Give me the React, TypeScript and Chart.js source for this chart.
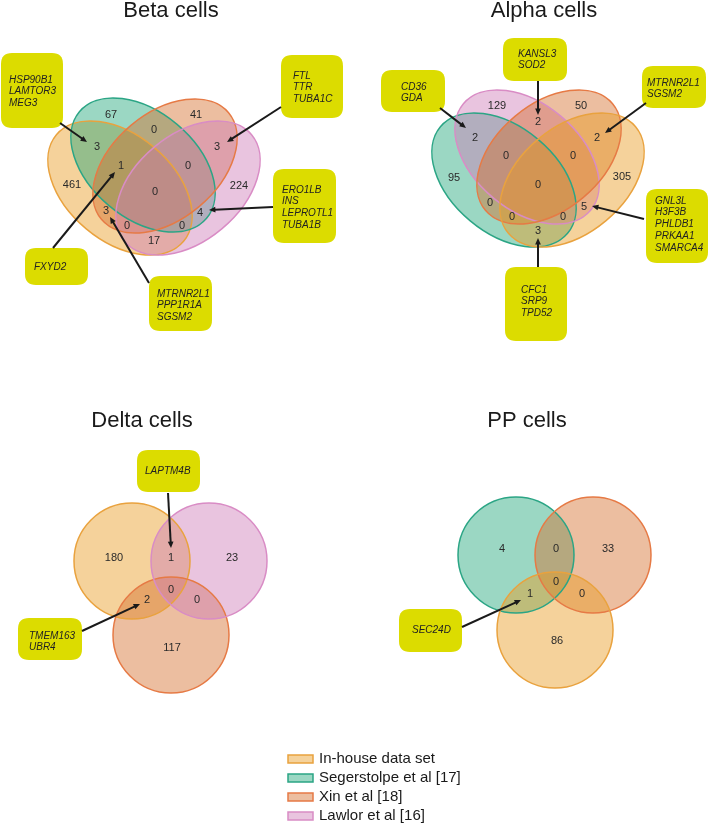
import React, { useEffect, useRef } from 'react';
import { Chart, registerables } from 'chart.js';
Chart.register(...registerables);

// ---- data ----
const SET_NAMES = ['In-house data set', 'Segerstolpe et al [17]', 'Xin et al [18]', 'Lawlor et al [16]'];
const PANEL_TITLES = ['Beta cells', 'Alpha cells', 'Delta cells', 'PP cells'];

// region counts per panel
const betaCounts = [461, 67, 41, 224, 3, 0, 3, 1, 0, 0, 3, 4, 0, 0, 17];
const alphaCounts = [129, 50, 2, 2, 2, 0, 0, 95, 305, 0, 0, 5, 0, 0, 3];
const deltaCounts = [180, 1, 23, 0, 2, 0, 117];
const ppCounts = [4, 0, 33, 0, 1, 0, 86];

// gene annotations
const betaGenes = [
  ['HSP90B1', 'LAMTOR3', 'MEG3'],
  ['FTL', 'TTR', 'TUBA1C'],
  ['ERO1LB', 'INS', 'LEPROTL1', 'TUBA1B'],
  ['FXYD2'],
  ['MTRNR2L1', 'PPP1R1A', 'SGSM2'],
];
const alphaGenes = [
  ['KANSL3', 'SOD2'],
  ['CD36', 'GDA'],
  ['MTRNR2L1', 'SGSM2'],
  ['GNL3L', 'H3F3B', 'PHLDB1', 'PRKAA1', 'SMARCA4'],
  ['CFC1', 'SRP9', 'TPD52'],
];
const deltaGenes = [['LAPTM4B'], ['TMEM163', 'UBR4']];
const ppGenes = [['SEC24D']];

// ---- layout (page coordinates) ----
const PANEL_TITLE_POS = [[171, 17], [544, 17], [142, 427], [527, 427]];

const betaCountPos = [[72, 185], [111, 115], [196, 115], [239, 186], [97, 147], [154, 130], [217, 147], [121, 166], [188, 166], [155, 192], [106, 211], [200, 213], [127, 226], [182, 226], [154, 241]];
const alphaCountPos = [[497, 106], [581, 106], [538, 122], [475, 138], [597, 138], [506, 156], [573, 156], [454, 178], [622, 177], [538, 185], [490, 203], [584, 207], [512, 217], [563, 217], [538, 231]];
const deltaCountPos = [[114, 558], [171, 558], [232, 558], [171, 590], [147, 600], [197, 600], [172, 648]];
const ppCountPos = [[502, 549], [556, 549], [608, 549], [556, 582], [530, 594], [582, 594], [557, 641]];

// ellipses: set index, cx, cy, rx, ry, rotation (deg)
const betaShapes = [[0, 120, 188, 83, 53, 40], [1, 143, 165, 83, 53, 40], [2, 165, 166, 83, 53, -40], [3, 188, 188, 83, 53, -40]];
const alphaShapes = [[1, 504, 180, 83, 53, 40], [3, 527, 157, 83, 53, 40], [2, 549, 157, 83, 53, -40], [0, 572, 180, 83, 53, -40]];
const deltaShapes = [[0, 132, 561, 58, 58, 0], [2, 171, 635, 58, 58, 0], [3, 209, 561, 58, 58, 0]];
const ppShapes = [[1, 516, 555, 58, 58, 0], [2, 593, 555, 58, 58, 0], [0, 555, 630, 58, 58, 0]];

// boxes: x0, y0, x1, y1, textX, firstLineY, arrow from (ax0, ay0) to (ax1, ay1)
const betaBoxes = [
  [1, 53, 63, 128, 9, 80, 60, 123, 87, 142],
  [281, 55, 343, 118, 293, 76, 281, 107, 227, 142],
  [273, 169, 336, 243, 282, 190, 273, 207, 209, 210],
  [25, 248, 88, 285, 34, 267, 53, 248, 115, 172],
  [149, 276, 212, 331, 157, 294, 149, 283, 110, 217],
];
const alphaBoxes = [
  [503, 38, 567, 81, 518, 54, 538, 81, 538, 115],
  [381, 70, 445, 112, 401, 87, 440, 108, 466, 128],
  [642, 66, 706, 108, 647, 83, 646, 103, 605, 133],
  [646, 189, 708, 263, 655, 201, 644, 219, 592, 206],
  [505, 267, 567, 341, 521, 290, 538, 267, 538, 238],
];
const deltaBoxes = [
  [137, 450, 200, 492, 145, 471, 168, 493, 171, 548],
  [18, 618, 82, 660, 29, 636, 82, 631, 140, 604],
];
const ppBoxes = [[399, 609, 462, 652, 412, 630, 462, 627, 521, 600]];

const LEGEND_POS = [288, 759, 19];

// ---- styles ----
const SET_FILL = ['rgba(233,155,33,0.45)', 'rgba(33,166,122,0.45)', 'rgba(213,111,44,0.45)', 'rgba(206,124,184,0.45)'];
const SET_STROKE = ['#e9a23e', '#2ba585', '#e67a45', '#d98cc5'];
const BOX_COLOR = '#dcdc00';
const FONT = '"Liberation Sans", Arial, sans-serif';

const panels = [
  { counts: betaCounts, pos: betaCountPos, shapes: betaShapes, genes: betaGenes, boxes: betaBoxes },
  { counts: alphaCounts, pos: alphaCountPos, shapes: alphaShapes, genes: alphaGenes, boxes: alphaBoxes },
  { counts: deltaCounts, pos: deltaCountPos, shapes: deltaShapes, genes: deltaGenes, boxes: deltaBoxes },
  { counts: ppCounts, pos: ppCountPos, shapes: ppShapes, genes: ppGenes, boxes: ppBoxes },
];

function roundRect(ctx: CanvasRenderingContext2D, x0: number, y0: number, x1: number, y1: number, r: number) {
  ctx.beginPath();
  ctx.moveTo(x0 + r, y0);
  ctx.lineTo(x1 - r, y0);
  ctx.quadraticCurveTo(x1, y0, x1, y0 + r);
  ctx.lineTo(x1, y1 - r);
  ctx.quadraticCurveTo(x1, y1, x1 - r, y1);
  ctx.lineTo(x0 + r, y1);
  ctx.quadraticCurveTo(x0, y1, x0, y1 - r);
  ctx.lineTo(x0, y0 + r);
  ctx.quadraticCurveTo(x0, y0, x0 + r, y0);
  ctx.closePath();
}

const vennPlugin = {
  id: 'venn',
  beforeDatasetsDraw(chart: any) {
    const { ctx } = chart;
    const xs = chart.scales.x;
    const ys = chart.scales.y;
    const px = (v: number) => xs.getPixelForValue(v);
    const py = (v: number) => ys.getPixelForValue(v);
    ctx.save();
    // titles
    ctx.fillStyle = '#1a1a1a';
    ctx.font = `22px ${FONT}`;
    ctx.textAlign = 'center';
    ctx.textBaseline = 'alphabetic';
    PANEL_TITLES.forEach((t, i) => ctx.fillText(t, px(PANEL_TITLE_POS[i][0]), py(PANEL_TITLE_POS[i][1])));

    panels.forEach((p) => {
      // fills
      p.shapes.forEach(([s, cx, cy, rx, ry, rot]) => {
        ctx.beginPath();
        ctx.ellipse(px(cx), py(cy), px(cx + rx) - px(cx), Math.abs(py(cy + ry) - py(cy)), (rot * Math.PI) / 180, 0, Math.PI * 2);
        ctx.fillStyle = SET_FILL[s];
        ctx.fill();
      });
      p.shapes.forEach(([s, cx, cy, rx, ry, rot]) => {
        ctx.beginPath();
        ctx.ellipse(px(cx), py(cy), px(cx + rx) - px(cx), Math.abs(py(cy + ry) - py(cy)), (rot * Math.PI) / 180, 0, Math.PI * 2);
        ctx.strokeStyle = SET_STROKE[s];
        ctx.lineWidth = 1.5;
        ctx.stroke();
      });
      // boxes and arrows
      p.boxes.forEach((b, i) => {
        const [x0, y0, x1, y1, tx, ty, ax0, ay0, ax1, ay1] = b;
        roundRect(ctx, px(x0), py(y0), px(x1), py(y1), 11);
        ctx.fillStyle = BOX_COLOR;
        ctx.fill();
        ctx.fillStyle = '#222';
        ctx.font = `italic 10px ${FONT}`;
        ctx.textAlign = 'left';
        ctx.textBaseline = 'middle';
        p.genes[i].forEach((g, j) => ctx.fillText(g, px(tx), py(ty + j * 11.7)));
        // arrow
        const X0 = px(ax0), Y0 = py(ay0), X1 = px(ax1), Y1 = py(ay1);
        const ang = Math.atan2(Y1 - Y0, X1 - X0);
        const hl = 7;
        ctx.strokeStyle = '#1a1a1a';
        ctx.lineWidth = 2;
        ctx.beginPath();
        ctx.moveTo(X0, Y0);
        ctx.lineTo(X1 - Math.cos(ang) * hl * 0.8, Y1 - Math.sin(ang) * hl * 0.8);
        ctx.stroke();
        ctx.fillStyle = '#1a1a1a';
        ctx.beginPath();
        ctx.moveTo(X1, Y1);
        ctx.lineTo(X1 - hl * Math.cos(ang - 0.42), Y1 - hl * Math.sin(ang - 0.42));
        ctx.lineTo(X1 - hl * Math.cos(ang + 0.42), Y1 - hl * Math.sin(ang + 0.42));
        ctx.closePath();
        ctx.fill();
      });
    });

    // legend
    const [lx, ly, step] = LEGEND_POS;
    SET_NAMES.forEach((n, i) => {
      const y = py(ly + i * step);
      ctx.fillStyle = SET_FILL[i];
      ctx.fillRect(px(lx), y - 4, px(lx + 25) - px(lx), 8);
      ctx.strokeStyle = SET_STROKE[i];
      ctx.lineWidth = 1.5;
      ctx.strokeRect(px(lx), y - 4, px(lx + 25) - px(lx), 8);
      ctx.fillStyle = '#1a1a1a';
      ctx.font = `15px ${FONT}`;
      ctx.textAlign = 'left';
      ctx.textBaseline = 'middle';
      ctx.fillText(n, px(lx + 31), y);
    });
    ctx.restore();
  },
  afterDatasetsDraw(chart: any) {
    const { ctx } = chart;
    ctx.save();
    ctx.fillStyle = '#2a2a2a';
    ctx.font = `11px ${FONT}`;
    ctx.textAlign = 'center';
    ctx.textBaseline = 'middle';
    chart.data.datasets.forEach((ds: any, di: number) => {
      const meta = chart.getDatasetMeta(di);
      meta.data.forEach((el: any, i: number) => {
        ctx.fillText(String(ds.data[i].v), el.x, el.y);
      });
    });
    ctx.restore();
  },
};

export default function App() {
  const ref = useRef<HTMLCanvasElement | null>(null);
  useEffect(() => {
    document.body.style.margin = '0';
    const canvas = ref.current!;
    const chart = new Chart(canvas, {
      type: 'scatter',
      data: {
        datasets: panels.map((p, k) => ({
          label: PANEL_TITLES[k],
          data: p.counts.map((v, i) => ({ x: p.pos[i][0], y: p.pos[i][1], v })),
          pointRadius: 0,
          pointHoverRadius: 0,
        })),
      },
      options: {
        responsive: false,
        animation: false,
        devicePixelRatio: 1,
        layout: { padding: 0 },
        events: [],
        scales: {
          x: { type: 'linear', min: 0, max: 709, display: false },
          y: { type: 'linear', min: 0, max: 823, reverse: true, display: false },
        },
        plugins: { legend: { display: false }, tooltip: { enabled: false }, title: { display: false } },
      },
      plugins: [vennPlugin],
    } as any);
    return () => chart.destroy();
  }, []);
  return (
    <div style={{ width: 709, height: 823, background: '#fff' }}>
      <canvas ref={ref} width={709} height={823} style={{ display: 'block' }} />
    </div>
  );
}
